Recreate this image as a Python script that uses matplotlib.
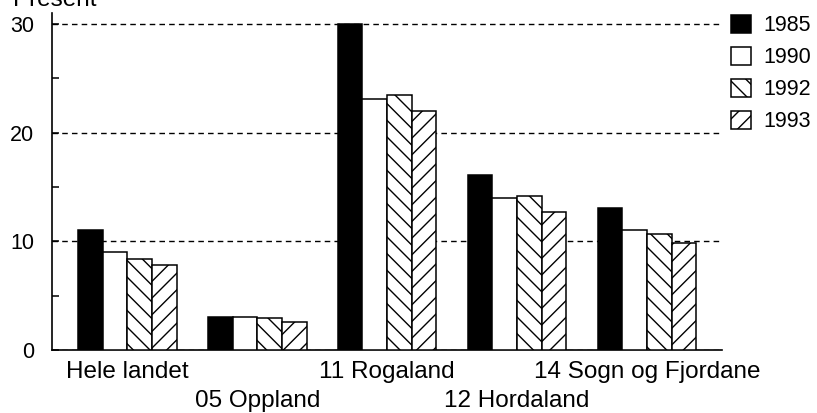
import matplotlib
matplotlib.use('Agg')
import matplotlib.pyplot as plt
import numpy as np

plt.rcParams['font.family'] = ['Liberation Sans', 'DejaVu Sans']
plt.rcParams['hatch.linewidth'] = 1.0

# data
regions = ['Hele landet', '05 Oppland', '11 Rogaland', '12 Hordaland', '14 Sogn og Fjordane']
years = ['1985', '1990', '1992', '1993']
v1985 = [11.0, 3.0, 30.0, 16.1, 13.1]
v1990 = [9.0, 3.0, 23.1, 14.0, 11.0]
v1992 = [8.4, 2.9, 23.5, 14.2, 10.7]
v1993 = [7.8, 2.6, 22.0, 12.7, 9.8]
values = [v1985, v1990, v1992, v1993]

colors = ['black', 'white', 'white', 'white']
hatches = [None, None, '\\\\', '//']

fs_lab = 17.5   # category labels, title
fs_num = 15.5   # tick numbers, legend

fig = plt.figure(figsize=(8.17, 4.13), dpi=100)
ax = fig.add_axes([0.0636, 0.1525, 0.8204, 0.816])

x = np.arange(len(regions))
w = 0.19
for i, vals in enumerate(values):
    ax.bar(x + (i - 1.5) * w, vals, w, color=colors[i], edgecolor='black',
           linewidth=1.1, hatch=hatches[i], label=years[i], zorder=3)

ax.set_xlim(-0.58, 4.58)
ax.set_ylim(0, 31)
ax.set_yticks([0, 10, 20, 30])
ax.set_yticks([5, 15, 25], minor=True)
ax.tick_params(axis='y', which='both', direction='in', length=5, width=1.1,
               labelsize=fs_num, pad=13)
ax.yaxis.grid(True, which='major', color='black', linestyle=(0, (4, 3)), linewidth=1.0, zorder=0)
ax.set_axisbelow(True)

for s in ['top', 'right']:
    ax.spines[s].set_visible(False)
ax.spines['left'].set_linewidth(1.2)
ax.spines['bottom'].set_linewidth(1.2)

# staggered category labels
ax.set_xticks(x)
ax.set_xticklabels(regions, fontsize=fs_lab)
ax.tick_params(axis='x', length=0)
for i, t in enumerate(ax.xaxis.get_major_ticks()):
    t.set_pad(8 if i % 2 == 0 else 29)

fig.text(0.016, 0.986, 'Present', fontsize=fs_lab, va='baseline', ha='left')

ax.legend(loc='upper left', bbox_to_anchor=(1.0006, 1.02), frameon=False, fontsize=fs_num,
          handlelength=0.93, handleheight=0.93, handletextpad=0.56, labelspacing=0.48,
          borderaxespad=0)

plt.savefig('out.png', dpi=100)
